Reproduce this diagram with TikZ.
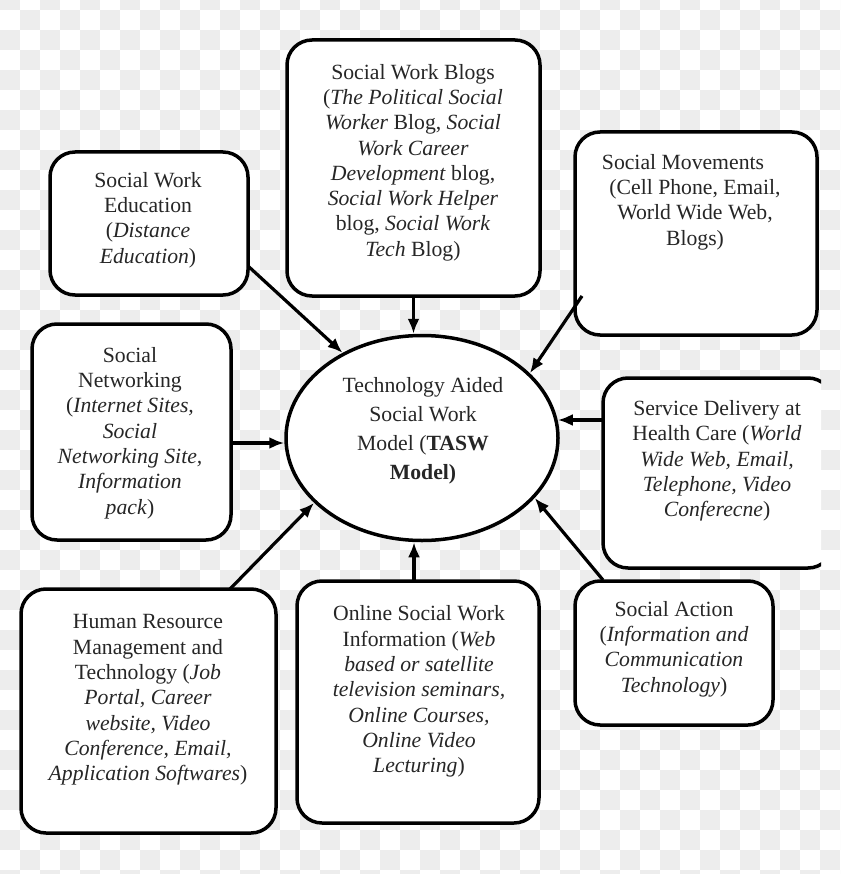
\documentclass[tikz,border=0pt]{standalone}
\usepackage{fontspec}
\setmainfont{Liberation Serif}
\usetikzlibrary{arrows.meta,shapes.geometric}
\tikzset{
  box/.style={draw=black, fill=white, line width=3.5pt, rounded corners=25pt, inner sep=0pt},
  oval/.style={draw=black, fill=white, line width=3.5pt, ellipse, inner sep=0pt},
  txt/.style={align=center, text=black!85, inner sep=0pt, font=\fontsize{21.7pt}{25.3pt}\selectfont},
  arr/.style={line width=3.2pt, -{Latex[length=15pt,width=12pt]}},
}
\begin{document}
\begin{tikzpicture}[x=1pt,y=-1pt]
\useasboundingbox (0,0) rectangle (840,874);
% background checker
\begin{scope}
\clip (0,0) rectangle (840,874);
\fill[white] (0,0) rectangle (840,874);
\foreach \i in {0,2,...,42}{
  \foreach \j in {0,2,...,44}{
    \fill[black!7] (\i*20,\j*20-10) rectangle ++(20,20);
    \fill[black!7] (\i*20+20,\j*20+10) rectangle ++(20,20);
  }
}
\end{scope}

% boxes
\node[box, minimum width=198pt, minimum height=143pt] (edu) at (149,223.5) {};
\node[box, minimum width=253pt, minimum height=256pt] (blogs) at (413.5,168) {};
\node[box, minimum width=242pt, minimum height=203pt] (move) at (696,233.5) {};
\node[box, minimum width=199pt, minimum height=216pt] (net) at (131.5,432) {};
\begin{scope}
\clip (590,360) rectangle (821,590);
\node[box, minimum width=230pt, minimum height=190pt] (sd) at (718,473) {};
\end{scope}
\node[box, minimum width=255pt, minimum height=244pt] (hr) at (148.5,711) {};
\node[box, minimum width=242pt, minimum height=242pt] (online) at (418,702) {};
\node[box, minimum width=198pt, minimum height=144pt] (action) at (674,653) {};
\node[oval, minimum width=272pt, minimum height=205pt] (tasw) at (422,438) {};

% texts
\node[txt] (edut) at (148,220) {Social Work\\Education\\(\textit{Distance}\\\textit{Education})};
\node[txt] (blogst) at (413,162.5) {Social Work Blogs\\(\textit{The Political Social}\\\textit{Worker} Blog, \textit{Social}\\\textit{Work Career}\\\textit{Development} blog,\\\textit{Social Work Helper}\\blog, \textit{Social Work}\\\textit{Tech} Blog)};
\node[txt] (movet) at (695,202) {Social Movements\hspace*{24pt}\\(Cell Phone, Email,\\World Wide Web,\\Blogs)};
\node[txt] (nett) at (130,433) {Social\\Networking\\(\textit{Internet Sites,}\\\textit{Social}\\\textit{Networking Site,}\\\textit{Information}\\\textit{pack})};
\node[txt, font=\fontsize{21.7pt}{29pt}\selectfont] (taswt) at (423,431) {Technology Aided\\Social Work\\Model (\textbf{TASW}\\\textbf{Model)}};
\node[txt] (sdt) at (717,461) {Service Delivery at\\Health Care (\textit{World}\\\textit{Wide Web, Email,}\\\textit{Telephone, Video}\\\textit{Conferecne})};
\node[txt] (hrt) at (148,700) {Human Resource\\Management and\\Technology (\textit{Job}\\\textit{Portal, Career}\\\textit{website, Video}\\\textit{Conference, Email,}\\\textit{Application Softwares})};
\node[txt] (onlinet) at (419,691.5) {Online Social Work\\Information (\textit{Web}\\\textit{based or satellite}\\\textit{television seminars,}\\\textit{Online Courses,}\\\textit{Online Video}\\\textit{Lecturing})};
\node[txt] (actiont) at (674,649) {Social Action\\(\textit{Information and}\\\textit{Communication}\\\textit{Technology})};

% connector start points
\coordinate (eduout) at (248,266);
\coordinate (moveout) at (582,296);
\coordinate (sdout) at (603,420);
\coordinate (actout) at (603,580);
\coordinate (onlout) at (414,581);
\coordinate (hrout) at (230,589);
\coordinate (netout) at (231,443);

% connectors
\draw[arr] (eduout) -- (tasw.133);
\draw[arr] (blogs.south) -- (blogs.south |- tasw.north);
\draw[arr] (moveout) -- (tasw.31);
\draw[arr] (sdout) -- ([xshift=-2pt]tasw.east |- sdout);
\draw[arr] (actout) -- (tasw.-28);
\draw[arr] (onlout) -- (onlout |- tasw.south);
\draw[arr] (hrout) -- (tasw.211.8);
\draw[arr] (netout) -- (tasw.west |- netout);
\end{tikzpicture}
\end{document}
